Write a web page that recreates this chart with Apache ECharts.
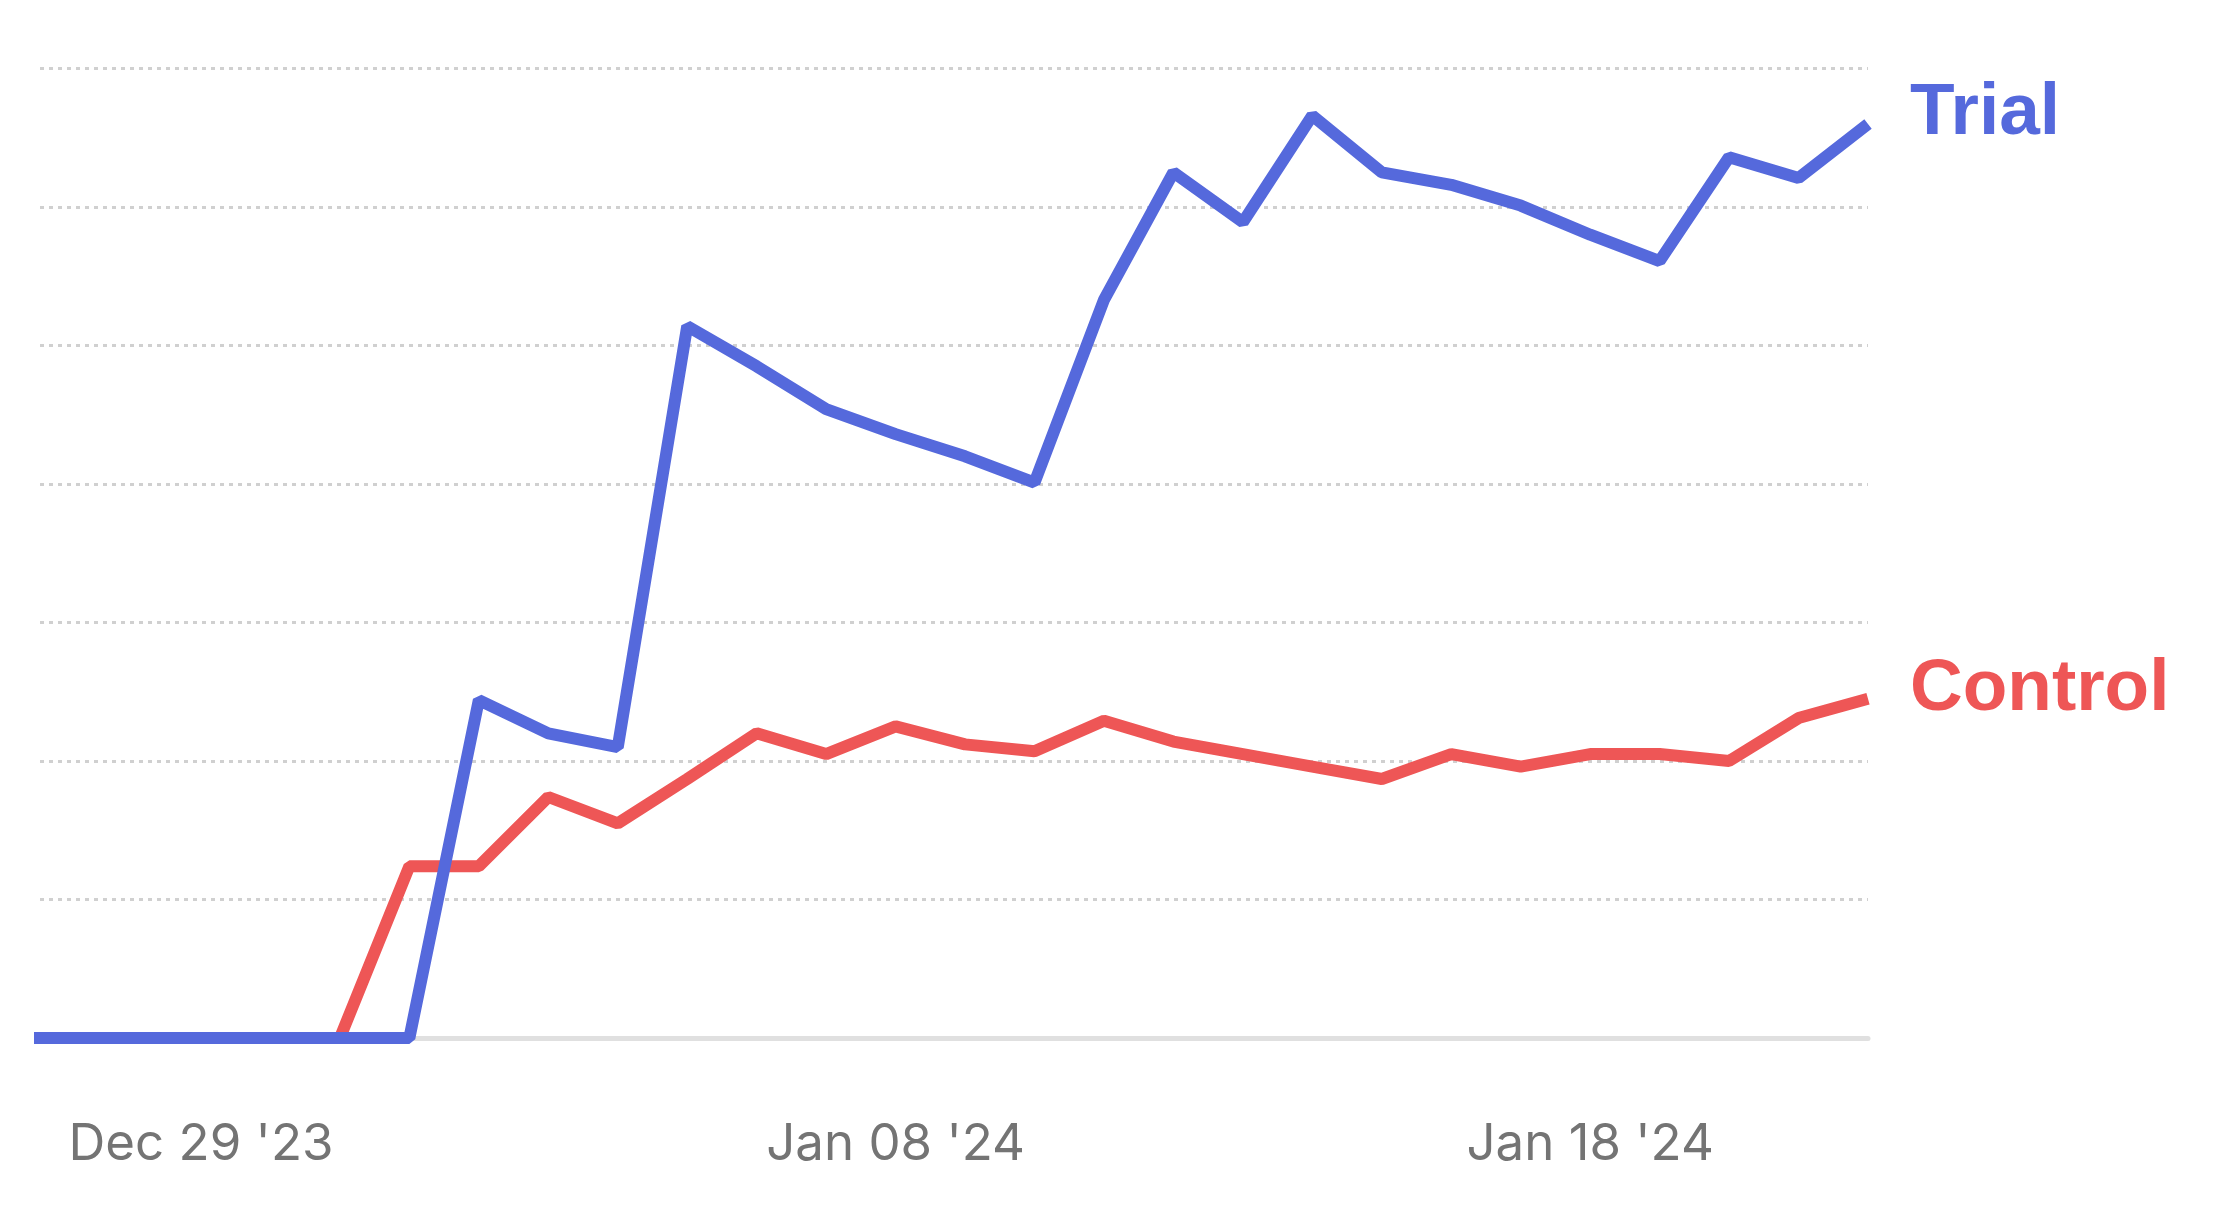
<!DOCTYPE html>
<html>
<head>
<meta charset="utf-8">
<script src="https://cdn.jsdelivr.net/npm/echarts@6/dist/echarts.min.js"></script>
<style>
  html, body { margin: 0; padding: 0; background: #ffffff; }
  #chart { width: 2236px; height: 1220px; }
</style>
</head>
<body>
<div id="chart"></div>
<script>
// ---- data ----
const dates = [
  '2023-12-26','2023-12-27','2023-12-28','2023-12-29','2023-12-30','2023-12-31',
  '2024-01-01','2024-01-02','2024-01-03','2024-01-04','2024-01-05','2024-01-06',
  '2024-01-07','2024-01-08','2024-01-09','2024-01-10','2024-01-11','2024-01-12',
  '2024-01-13','2024-01-14','2024-01-15','2024-01-16','2024-01-17','2024-01-18',
  '2024-01-19','2024-01-20','2024-01-21','2024-01-22'
];
const trial = [
  0, 0, 0, 0, 0, 0,
  0, 24.4, 22.0, 21.0, 51.4, 48.5,
  45.4, 43.6, 42.0, 40.1, 53.3, 62.5,
  58.9, 66.6, 62.5, 61.6, 60.1, 58.0,
  56.1, 63.6, 62.1, 66.0
];
const control = [
  0, 0, 0, 0, 0, 0,
  12.4, 12.4, 17.4, 15.5, 18.7, 22.0,
  20.5, 22.5, 21.2, 20.7, 22.9, 21.4,
  20.5, 19.6, 18.7, 20.5, 19.6, 20.5,
  20.5, 20.0, 23.1, 24.5
];
const tickDates = ['2023-12-29', '2024-01-08', '2024-01-18'];
const axisStart = '2023-12-26T16:22:00Z';
const axisEnd = '2024-01-22';
const seriesNames = ['Control', 'Trial'];
const MONTHS = ['Jan','Feb','Mar','Apr','May','Jun','Jul','Aug','Sep','Oct','Nov','Dec'];

const DAY = 86400000;
// day number (days since epoch, UTC)
function dayNum(s) { return Date.parse(s.length === 10 ? s + 'T00:00:00Z' : s) / DAY; }
function fmt(v) {
  const d = new Date(Math.round(v) * DAY);
  const dd = String(d.getUTCDate()).padStart(2, '0');
  const yy = String(d.getUTCFullYear()).slice(2);
  return MONTHS[d.getUTCMonth()] + ' ' + dd + " '" + yy;
}
function pairs(vals) { return dates.map((d, i) => [dayNum(d), vals[i]]); }

const BLUE = '#5569DC';
const RED = '#EE5656';

const chart = echarts.init(document.getElementById('chart'), null, { renderer: 'canvas' });
chart.setOption({
  animation: false,
  backgroundColor: '#ffffff',
  grid: { left: 40, right: 368, top: 68.5, bottom: 182 },
  xAxis: {
    type: 'value',
    min: dayNum(axisStart),
    max: dayNum(axisEnd),
    axisLine: { show: true, onZero: false, lineStyle: { color: '#e0e0e0', width: 5 } },
    axisTick: { show: false },
    splitLine: { show: false },
    axisLabel: {
      customValues: tickDates.map(dayNum),
      formatter: (v) => fmt(v),
      color: '#747474',
      fontFamily: 'Inter',
      fontSize: 51,
      margin: 81,
      hideOverlap: false
    }
  },
  yAxis: {
    type: 'value',
    min: 0,
    max: 70,
    interval: 10,
    axisLine: { show: false },
    axisTick: { show: false },
    axisLabel: { show: false },
    splitLine: { show: true, lineStyle: { color: '#d0d0d0', width: 3, type: [4, 5] } }
  },
  series: [
    {
      name: seriesNames[0],
      type: 'line',
      data: pairs(control),
      showSymbol: false,
      symbol: 'none',
      lineStyle: { color: RED, width: 12 },
      itemStyle: { color: RED },
      endLabel: {
        show: true,
        formatter: '{a}',
        color: RED,
        fontFamily: 'Liberation Sans',
        fontWeight: 'bold',
        fontSize: 73,
        distance: 42,
        offset: [0, -9]
      }
    },
    {
      name: seriesNames[1],
      type: 'line',
      data: pairs(trial),
      showSymbol: false,
      symbol: 'none',
      lineStyle: { color: BLUE, width: 12 },
      itemStyle: { color: BLUE },
      endLabel: {
        show: true,
        formatter: '{a}',
        color: BLUE,
        fontFamily: 'Liberation Sans',
        fontWeight: 'bold',
        fontSize: 73,
        distance: 42,
        offset: [0, -10]
      }
    }
  ]
});
</script>
</body>
</html>
